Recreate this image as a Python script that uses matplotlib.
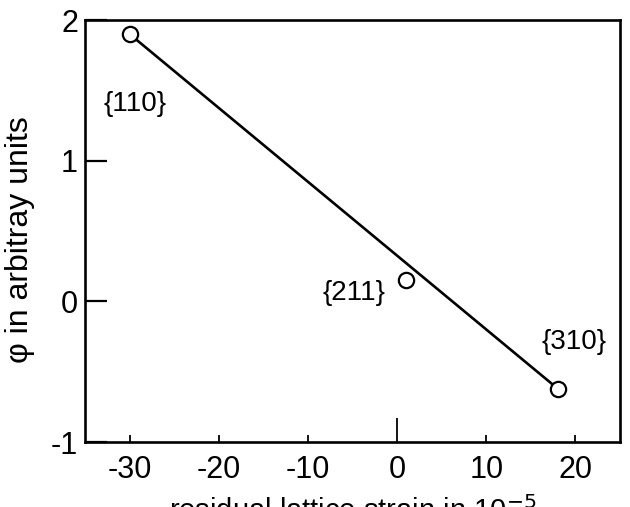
import numpy as np
import matplotlib.pyplot as plt
from matplotlib import font_manager

# data
strain = [-30, 1, 18]          # residual lattice strain in 1e-5
phi = [1.9, 0.15, -0.62]       # phi in arbitrary units
planes = ['{110}', '{211}', '{310}']
label_x = [-29.4, -4.8, 19.8]
label_y = [1.40, 0.06, -0.29]
fit_x = [-30, 18]
fit_y = [1.9, -0.62]

names = {f.name for f in font_manager.fontManager.ttflist}
fam = ['Liberation Sans Narrow'] if 'Liberation Sans Narrow' in names else ['Liberation Sans']
plt.rcParams['font.family'] = fam + ['DejaVu Sans']
plt.rcParams['axes.unicode_minus'] = False

fig = plt.figure(figsize=(6.3, 5.07), dpi=100)
ax = fig.add_axes([85 / 630, 65 / 507, 535 / 630, 422 / 507])

ax.plot(fit_x, fit_y, color='black', lw=1.9, zorder=2)
ax.plot(strain, phi, 'o', ms=11, mfc='white', mec='black', mew=1.6, zorder=3)

for t, x, y in zip(planes, label_x, label_y):
    ax.text(x, y, t, ha='center', va='center', fontsize=20)

ax.set_xlim(-35, 25)
ax.set_ylim(-1, 2)
ax.set_xticks([-30, -20, -10, 0, 10, 20])
ax.set_yticks([-1, 0, 1, 2])
ax.tick_params(axis='x', direction='in', length=5, width=1.3, pad=9, labelsize=22)
ax.tick_params(axis='y', direction='in', length=16, width=1.6, pad=5, labelsize=22)
for tk, v in zip(ax.xaxis.get_major_ticks(), ax.get_xticks()):
    if v == 0:
        tk.tick1line.set_markersize(17)
for s in ax.spines.values():
    s.set_linewidth(1.9)

ax.set_ylabel('φ in arbitray units', fontsize=23)
ax.yaxis.set_label_coords(-0.093, 0.48)
ax.set_xlabel('residual lattice strain in 10$^{-5}$', fontsize=21, labelpad=8)

fig.savefig('out.png', dpi=100)
